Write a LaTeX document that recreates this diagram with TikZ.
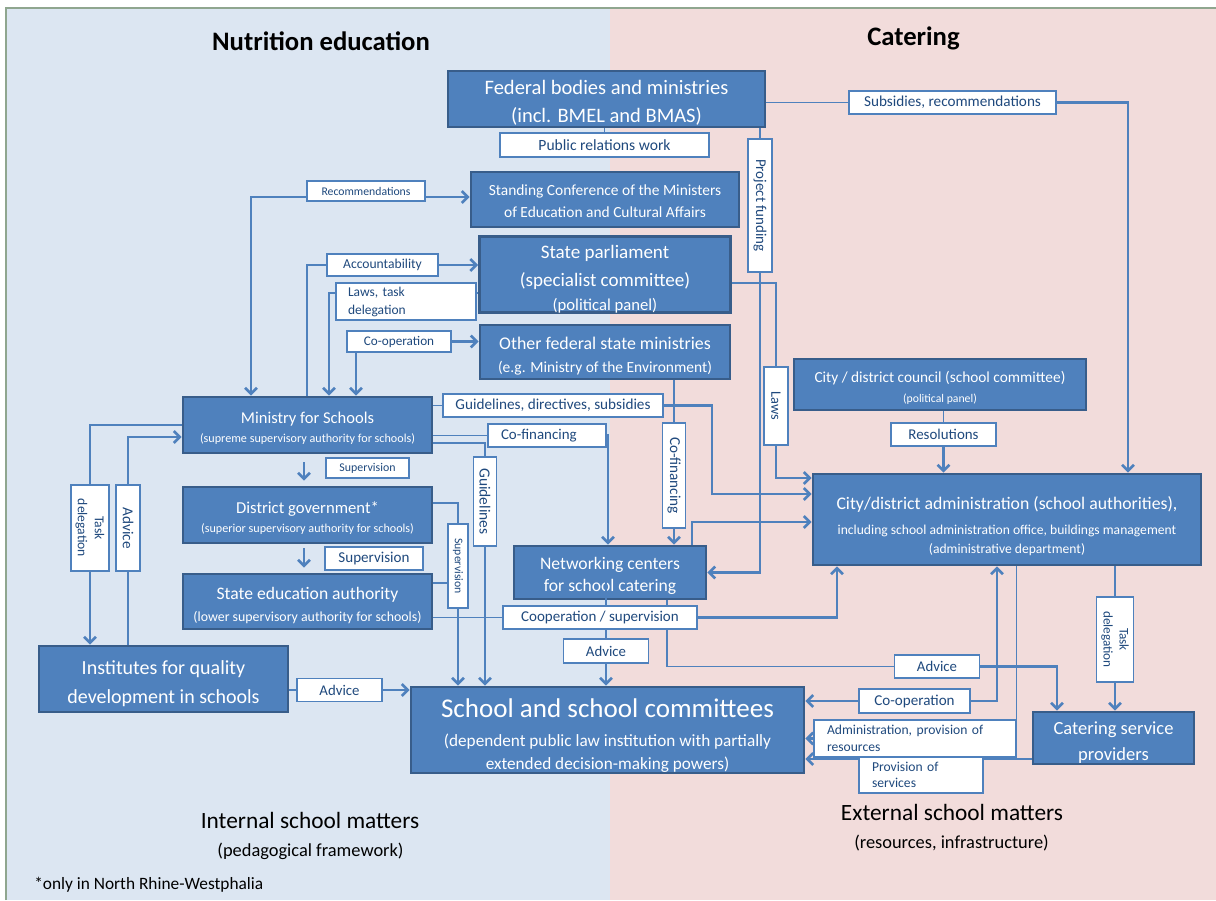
\documentclass[tikz,border=0pt]{standalone}
\usepackage{fontspec}
\setmainfont{Carlito}
\usetikzlibrary{arrows.meta,calc}
\definecolor{bgblue}{HTML}{DCE6F2}
\definecolor{bgpink}{HTML}{F2DCDB}
\definecolor{boxfill}{HTML}{4F81BD}
\definecolor{boxedge}{HTML}{385D8A}
\definecolor{lnc}{HTML}{4F81BD}
\definecolor{labtxt}{HTML}{1F497D}
\definecolor{framec}{HTML}{8FA68F}
\newcommand\fz[2]{\fontsize{#1}{#2}\selectfont}
\newcommand\tp[1]{\rule{0pt}{#1pt}}
\pgfdeclarelayer{back}\pgfdeclarelayer{wires}\pgfsetlayers{back,wires,main}
\tikzset{
 sz/.code 2 args={\pgfmathsetlengthmacro\szw{(#1)*0.75pt}\pgfmathsetlengthmacro\szh{(#2)*0.75pt}\edef\szdo{\noexpand\pgfkeysalso{/pgf/minimum width=\szw,/pgf/minimum height=\szh}}\szdo},
 bbox/.style={draw=boxedge, fill=boxfill, line width=2pt, text=white, inner sep=0pt, align=center},
 lab/.style={draw=lnc, fill=white, line width=0.9pt, text=labtxt, inner sep=0pt, align=center},
 plain/.style={inner sep=0pt, text=black},
 ln/.style={draw=lnc, line width=1pt},
 arw/.style={draw=lnc, line width=2pt, -{Straight Barb[length=4.5pt,width=9pt]}},
 arw2/.style={draw=lnc, line width=2pt, {Straight Barb[length=4.5pt,width=9pt]}-{Straight Barb[length=4.5pt,width=9pt]}},
}
\begin{document}
\begin{tikzpicture}[x=0.75pt,y=-0.75pt]
\useasboundingbox (0,0) rectangle (1216,900);
\begin{pgfonlayer}{back}
\fill[white] (0,0) rectangle (1216,900);
\fill[bgblue] (6,8) rectangle (610,900);
\fill[bgpink] (610,8) rectangle (1216,900);
\draw[framec, line width=0.8pt] (6,900) -- (6,8) -- (1216,8);
\end{pgfonlayer}

% titles and free texts
\node[plain, font=\bfseries\fz{20}{24}] (t1) at (321,41) {Nutrition education};
\node[plain, font=\bfseries\fz{20}{24}] (t2) at (913.5,38) {Catering};
\node[plain, font=\fz{17.5}{20}] (ism) at (310,820) {Internal school matters};
\node[plain, font=\fz{13.8}{16}] (pedf) at (310.5,851) {(pedagogical framework)};
\node[plain, font=\fz{17.5}{20}] (esm) at (952,812) {External school matters};
\node[plain, font=\fz{13.8}{16}] (resi) at (951.5,843) {(resources, infrastructure)};
\node[plain, font=\fz{13}{15}, anchor=west] (fnote) at (34,885) {*only in North Rhine-Westphalia};

% main boxes
\node[bbox, sz={317}{56}, font=\fz{15.4}{21}] (fed) at (606.5,99) {\tp{15.7}Federal bodies and ministries\\(incl. BMEL and BMAS)};
\node[bbox, sz={268}{55}, font=\fz{11.6}{16.5}] (sc) at (605,199.5) {\tp{10}Standing Conference of the Ministers\\of Education and Cultural Affairs};
\node[bbox, sz={251}{75}, font=\fz{14.3}{21}] (parl) at (605,274.5) {\tp{16.4}State parliament\\(specialist committee)\\[-3pt]{\fz{12.5}{21}(political panel)}};
\node[bbox, sz={250}{54}, font=\fz{13.4}{17.25}] (oth) at (605,352) {\tp{15}Other federal state ministries\\{\fz{11.6}{17.25}(e.g. Ministry of the Environment)}};
\node[bbox, sz={249}{56}, font=\fz{12.4}{14.25}] (ms) at (307.5,425) {\tp{13.6}Ministry for Schools\\{\fz{9.1}{14.25}(supreme supervisory authority for schools)}};
\node[bbox, sz={249}{56}, font=\fz{12.5}{14.25}] (dg) at (307.5,515) {\tp{13.6}District government*\\{\fz{9.1}{14.25}(superior supervisory authority for schools)}};
\node[bbox, sz={249}{55}, font=\fz{13.2}{16.5}] (se) at (307.5,601.5) {\tp{14.9}State education authority\\{\fz{10.4}{16.5}(lower supervisory authority for schools)}};
\node[bbox, sz={249}{66}, font=\fz{15}{21.75}] (inst) at (163.5,679) {\tp{17}Institutes for quality\\development in schools};
\node[bbox, sz={192}{53}, font=\fz{13.2}{16.5}] (net) at (610,572.5) {\tp{14.1}Networking centers\\for school catering};
\node[bbox, sz={393}{86}, font=\fz{20.3}{21.75}] (school) at (607.5,730) {\tp{22.3}School and school committees\\{\fz{12.9}{21.75}(dependent public law institution with partially}\\[-4.5pt]{\fz{12.9}{21.75}extended decision-making powers)}};
\node[bbox, sz={292}{51}, font=\fz{11.5}{15}] (cc) at (940,384.5) {\tp{13.1}City / district council (school committee)\\{\fz{8.8}{15}(political panel)}};
\node[bbox, sz={388}{91}, font=\fz{13.3}{18.75}] (admin) at (1007,519.5) {\tp{19.75}City/district administration (school authorities),\\{\fz{10.2}{18.75}including school administration office, buildings management}\\[-4.5pt]{\fz{10.2}{18.75}(administrative department)}};
\node[bbox, sz={161}{52}, font=\fz{13.9}{19.5}] (cat) at (1113.5,738) {\tp{16.1}Catering service\\providers};

% labels
\node[lab, sz={207}{23}, font=\fz{11.4}{13}] (subs) at (952.5,102.5) {Subsidies, recommendations};
\node[lab, sz={209}{24}, font=\fz{11.7}{13}] (prw) at (604.5,145) {Public relations work};
\node[lab, sz={133}{24}, rotate=-90, font=\fz{11.2}{13}] (pf) at (760,205.5) {Project funding};
\node[lab, sz={118}{20}, font=\fz{8.8}{10}] (rec) at (366,191) {Recommendations};
\node[lab, sz={111}{22}, font=\fz{10.2}{12}] (acc) at (382.5,265) {Accountability};
\node[lab, sz={140}{37}, align=left, text width=87pt, inner xsep=9pt, font=\fz{10.1}{13.5}] (ltd) at (406,301.5) {Laws, task\\delegation};
\node[lab, sz={104}{21}, font=\fz{9.9}{12}] (coop1) at (399,341.5) {Co-operation};
\node[lab, sz={220}{23}, font=\fz{11.4}{13}] (gds) at (553,405.5) {Guidelines, directives, subsidies};
\node[lab, sz={118}{23}, align=left, text width=69pt, inner xsep=9.75pt, font=\fz{11.2}{13}] (cof) at (547,435.5) {Co-financing};
\node[lab, sz={89}{23}, rotate=-90, font=\fz{11.6}{13}] (gl) at (485,501.5) {Guidelines};
\node[lab, sz={83}{20}, font=\fz{8.9}{10}] (sup1) at (367.5,468) {Supervision};
\node[lab, sz={98}{23}, font=\fz{11.3}{13}] (sup2) at (374,558.5) {Supervision};
\node[lab, sz={84}{20}, rotate=-90, font=\fz{8.8}{10}] (sv) at (458,566) {Supervision};
\node[lab, sz={194}{23}, font=\fz{11.25}{13}] (coop) at (600,617.5) {Cooperation / supervision};
\node[lab, sz={85}{24}, font=\fz{11.1}{13}] (adv2) at (606,651) {Advice};
\node[lab, sz={105}{23}, rotate=-90, font=\fz{11.4}{13}] (cof2) at (674,475.5) {Co-financing};
\node[lab, sz={78}{24}, rotate=-90, font=\fz{10.8}{13}] (laws) at (776,406) {Laws};
\node[lab, sz={105}{23}, font=\fz{11.2}{13}] (res) at (943.5,434.5) {Resolutions};
\node[lab, sz={85}{23}, font=\fz{11.1}{13}] (adv3) at (937,666.5) {Advice};
\node[lab, sz={111}{24}, font=\fz{11.3}{13}] (coop2) at (914.5,701) {Co-operation};
\node[lab, sz={202}{37}, align=left, text width=132pt, inner xsep=9.75pt, font=\fz{10.2}{12.75}] (apr) at (915,738.5) {Administration, provision of\\resources};
\node[lab, sz={124}{36}, align=left, text width=73.5pt, inner xsep=9.75pt, font=\fz{10.2}{12}] (pos) at (921,775) {Provision of\\services};
\node[lab, sz={85}{37}, rotate=-90, font=\fz{9.9}{12}] (td2) at (1115,639.5) {Task\\delegation};
\node[lab, sz={86}{38}, rotate=-90, font=\fz{10.2}{12.75}] (td1) at (90,528) {Task\\delegation};
\node[lab, sz={86}{24}, rotate=-90, font=\fz{11.4}{13}] (adv1) at (128,528) {Advice};
\node[lab, sz={85}{23}, font=\fz{11.1}{13}] (adv4) at (339.5,690) {Advice};

% connector crossing the networking box text
\draw[ln] (net.south -| adv2.north) -- ++(0,-19);

\begin{pgfonlayer}{wires}
% federal bodies
\draw[ln] (fed.east |- subs.west) -- (subs.west);
\draw[arw] (subs.east) -| (admin.north -| 1128,0);
\draw[ln] (fed.south -| prw.north) -- (prw.north);
\draw[ln] (fed.south -| pf.west) -- (pf.west);
\draw[arw] (pf.east) |- (net.east);
% state parliament
\draw[ln] (parl.east |- 0,283) -| (laws.west);
\draw[arw] (laws.east) |- (admin.west |- 0,478);
\draw[ln] (ms.north -| 307,0) |- (acc.west);
\draw[arw] (acc.east) -- (parl.west |- acc.east);
\draw[ln] (parl.west |- 0,293) -- (ltd.east |- 0,293);
\draw[arw] (ltd.west |- 0,293) -| (ms.north -| 329,0);
\draw[arw2] (sc.west |- 0,197) -| (ms.north -| 251,0);
\draw[arw2] (ms.north -| 356,0) |- (oth.west |- coop1.east);
% other ministries
\draw[ln] (oth.south -| cof2.west) -- (cof2.west);
\draw[arw] (cof2.east) -- (net.north -| cof2.east);
% ministry for schools
\coordinate (k1) at (712,494);
\draw[ln] (ms.east |- gds.west) -- (gds.west);
\draw[arw] (gds.east) -| (k1) -- (admin.west |- k1);
\draw[ln] (ms.east |- cof.west) -- (cof.west);
\draw[arw] (cof.east) -| (net.north -| 608,0);
\draw[ln] (ms.east |- 0,443) -| (gl.west);
\draw[arw] (gl.east) -- (school.north -| gl.east);
\draw[arw, shorten <=6pt, shorten >=3.75pt] (ms.south -| 304,0) -- (dg.north -| 304,0);
\draw[arw, shorten <=3pt, shorten >=3.75pt] (dg.south -| 304,0) -- (se.north -| 304,0);
\draw[ln] (ms.west |- 0,425) -| (td1.west);
\draw[arw] (td1.east) -- (inst.north -| td1.east);
\draw[ln] (inst.north -| adv1.east) -- (adv1.east);
\draw[arw] (adv1.west) |- (ms.west |- 0,437);
% district government / state education authority
\draw[ln] (dg.east |- 0,503) -| (sv.west);
\draw[arw] (sv.east) -- (school.north -| sv.east);
\draw[ln] (se.east |- 0,583) -- (sv.south |- 0,583);
\draw[ln] (se.east |- coop.west) -- (coop.west);
\draw[arw] (coop.east) -| (admin.south -| 837,0);
% institutes
\draw[ln] (inst.east |- adv4.west) -- (adv4.west);
\draw[arw] (adv4.east) -- (school.west |- adv4.east);
% networking centers
\draw[ln] (net.south -| adv2.north) -- (adv2.north);
\draw[arw] (adv2.south) -- (school.north -| adv2.south);
\draw[ln] (net.south -| 667,0) |- (adv3.west);
\draw[arw] (adv3.east) -| (cat.north -| 1057,0);
\draw[arw] (net.north -| 692,0) |- (admin.west |- 0,522);
% council and administration
\draw[ln] (cc.south -| res.north) -- (res.north);
\draw[arw] (res.south) -- (admin.north -| res.south);
\draw[ln] (admin.south -| apr.east) -- (apr.east);
\draw[arw] (apr.west) -- (school.east |- apr.west);
\draw[arw] (coop2.west) -- (school.east |- coop2.west);
\draw[arw] (coop2.east) -| (admin.south -| 997,0);
\draw[ln] (admin.south -| td2.west) -- (td2.west);
\draw[arw] (td2.east) -- (cat.north -| td2.east);
\draw[arw] (cat.west |- 0,759) -- (school.east |- 0,759);
\end{pgfonlayer}
\end{tikzpicture}
\end{document}
